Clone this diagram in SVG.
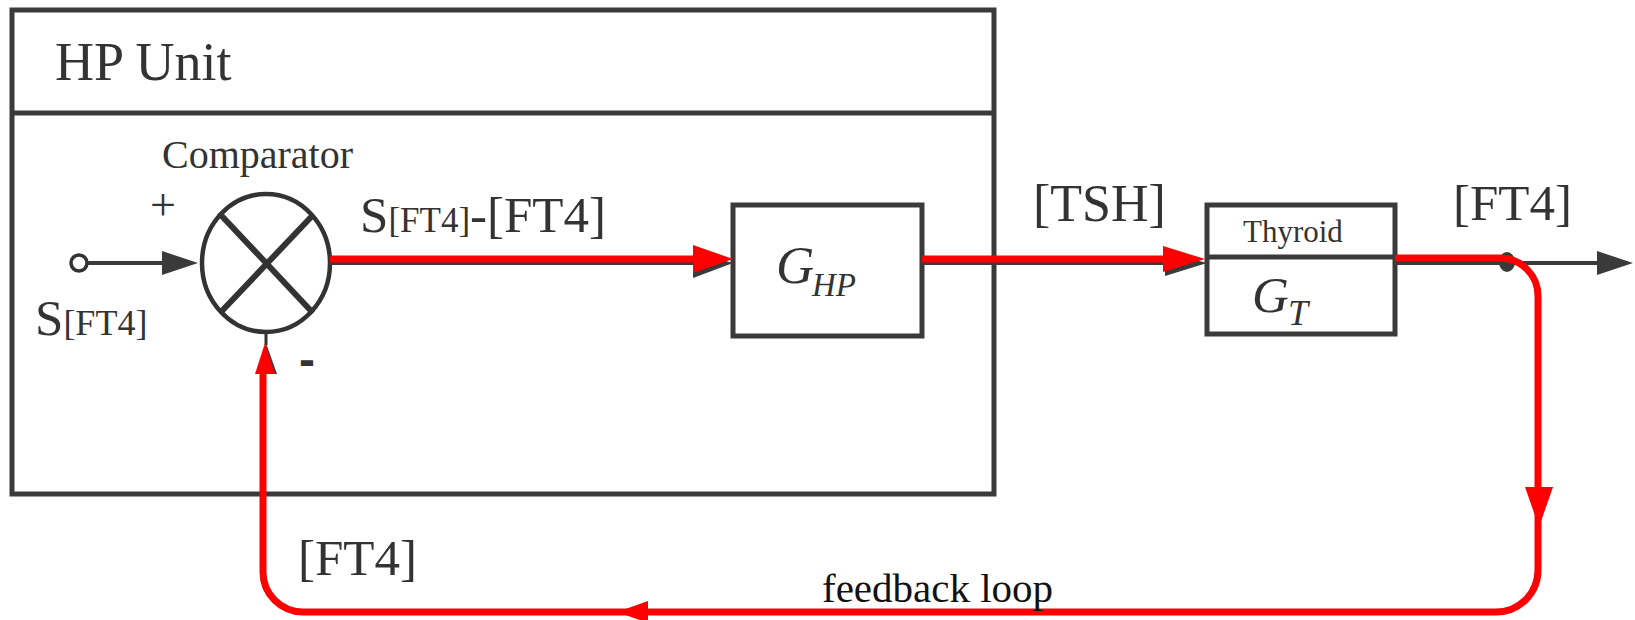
<svg xmlns="http://www.w3.org/2000/svg" width="1635" height="620" viewBox="0 0 1635 620">
<style>
text{font-family:"Liberation Serif","Times New Roman",serif;fill:#333;}
.box{fill:none;stroke:#3a3a3a;stroke-width:5;}
.dk{fill:none;stroke:#3a3a3a;stroke-width:4;}
.red{fill:none;stroke:#ff0000;stroke-width:7;}
.rh{fill:#ff0000;}
.dh{fill:#3a3a3a;}
.it{font-style:italic;}
</style>
<rect width="1635" height="620" fill="#fff"/>
<g id="hp-unit">
<rect class="box" x="12" y="10" width="982" height="484"/>
<line class="box" x1="12" y1="113" x2="994" y2="113"/>
<text x="55" y="80" font-size="54">HP Unit</text>
</g>
<g id="comparator">
<ellipse cx="266" cy="263" rx="64" ry="69" fill="#fff" stroke="#333" stroke-width="4.5"/>
<line x1="219" y1="213" x2="313" y2="313" stroke="#333" stroke-width="6"/>
<line x1="313" y1="215" x2="220" y2="313" stroke="#333" stroke-width="6"/>
<text x="162" y="168" font-size="40">Comparator</text>
<text x="163" y="220" font-size="46" text-anchor="middle">+</text>
<text x="307" y="376" font-size="48" text-anchor="middle" font-weight="bold" style="font-family:'Liberation Sans',Arial,sans-serif">-</text>
</g>
<g id="input">
<circle cx="79" cy="263" r="8" fill="#fff" stroke="#333" stroke-width="3.5"/>
<text x="35" y="335"><tspan font-size="51">S</tspan><tspan font-size="36">[FT4]</tspan></text>
</g>
<g id="ghp">
<rect class="box" x="733" y="205" width="189" height="131"/>
<text x="776" y="283" font-size="53" class="it">G</text>
<text x="812" y="296" font-size="33" class="it">HP</text>
</g>
<g id="thyroid">
<rect class="box" x="1207" y="205" width="188" height="129"/>
<line class="box" x1="1207" y1="257" x2="1395" y2="257"/>
<text x="1243" y="242" font-size="31">Thyroid</text>
<text x="1252" y="312" font-size="51" class="it">G</text>
<text x="1288" y="325" font-size="36" class="it">T</text>
</g>
<g id="connectors">
<line class="dk" x1="88" y1="263" x2="166" y2="263"/>
<polygon class="dh" points="162,251 198,263 162,275"/>
<line class="dk" x1="330" y1="263" x2="700" y2="263"/>
<polygon class="dh" points="693,252 733,263 693,278"/>
<line class="red" x1="330" y1="259" x2="700" y2="259"/>
<polygon class="rh" points="693,245 733,259 693,273"/>
<line class="dk" x1="922" y1="263" x2="1170" y2="263"/>
<polygon class="dh" points="1165,252 1207,263 1165,276"/>
<line class="red" x1="922" y1="259" x2="1168" y2="259"/>
<polygon class="rh" points="1163,246 1205,259 1163,272"/>
<line class="dk" x1="1395" y1="263" x2="1600" y2="263"/>
<polygon class="dh" points="1597,251 1633,263 1597,275"/>
<ellipse cx="1507" cy="262" rx="8" ry="10" class="dh"/>
<path class="red" d="M1395 258 H1500 A38 38 0 0 1 1538 296 V570 A42 42 0 0 1 1496 612 H303 A40 40 0 0 1 263 572 V370"/>
<polygon class="rh" points="1525,487 1553,487 1539,527"/>
<polygon class="rh" points="648,601 648,623 617,612"/>
<line x1="266" y1="333" x2="266" y2="345" stroke="#333" stroke-width="3"/>
<polygon class="dh" points="266,343 277,374 266,374"/>
<polygon class="rh" points="265,343 275,374 255,374"/>
<text x="360" y="232"><tspan font-size="51">S</tspan><tspan font-size="35">[FT4]</tspan><tspan font-size="51">-[FT4]</tspan></text>
<text x="1033" y="221" font-size="52">[TSH]</text>
<text x="1453" y="220" font-size="51">[FT4]</text>
<text x="298" y="575" font-size="51">[FT4]</text>
<text x="822" y="602" font-size="41" style="fill:#111">feedback loop</text>
</g>
</svg>
